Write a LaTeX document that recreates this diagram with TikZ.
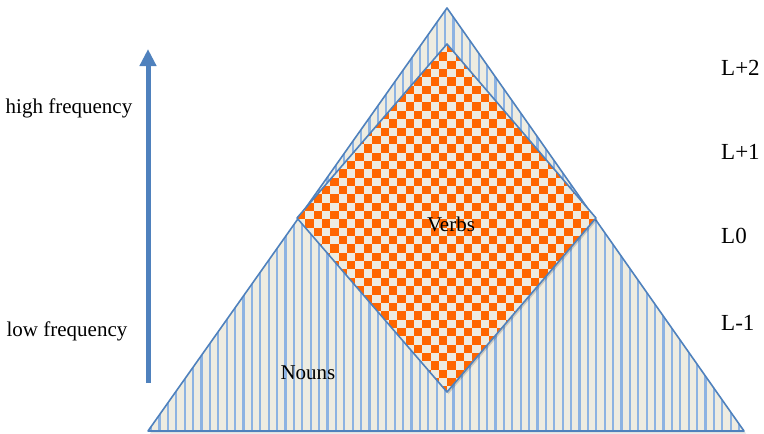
\documentclass[tikz,border=0pt]{standalone}
\usepackage{fontspec}
\setmainfont{Liberation Serif}
\usetikzlibrary{arrows.meta}
\definecolor{beige}{HTML}{EEECE1}
\definecolor{stripe}{HTML}{8DB3E2}
\definecolor{outl}{HTML}{4F81BD}
\definecolor{orng}{HTML}{FF6600}
\tikzset{
  lbl/.style={font=\fontsize{21}{24}\selectfont, inner sep=0pt},
  rlbl/.style={font=\fontsize{23}{26}\selectfont, inner sep=0pt},
  edge/.style={draw=outl, line width=1.6pt, line join=round},
  freqarrow/.style={draw=outl, line width=5pt, -{Triangle[width=16pt,length=17pt]}}
}
\begin{document}
\begin{tikzpicture}[x=1pt,y=-1pt]
\useasboundingbox (0,0) rectangle (764,434);
% corners
\coordinate (A) at (447,8);
\coordinate (B) at (148,431);
\coordinate (C) at (744,431);
\coordinate (DT) at (447,44);
\coordinate (DL) at (297,218);
\coordinate (DR) at (596,218);
\coordinate (DB) at (447,392);
% shadow
\fill[black,opacity=0.12] ([shift={(2,2.5)}]A) -- ([shift={(2,2.5)}]B) -- ([shift={(2,2.5)}]C) -- cycle;
% triangle with stripes
\fill[beige] (A) -- (B) -- (C) -- cycle;
\begin{scope}
\clip (A) -- (B) -- (C) -- cycle;
\foreach \k in {0,...,72} {
  \draw[stripe, line width=2.2pt] ({151+\k*8.4},0) -- ({151+\k*8.4},434);
}
\end{scope}
\draw[edge] (A) -- (B) -- (C) -- cycle;
% diamond shadow
\fill[black,opacity=0.15] ([shift={(1.5,2)}]DT) -- ([shift={(1.5,2)}]DL) -- ([shift={(1.5,2)}]DB) -- ([shift={(1.5,2)}]DR) -- cycle;
% diamond with checks
\fill[beige] (DT) -- (DL) -- (DB) -- (DR) -- cycle;
\begin{scope}
\clip (DT) -- (DL) -- (DB) -- (DR) -- cycle;
\foreach \j in {0,2,...,42} {
  \foreach \i in {0,2,...,36} {
    \fill[orng] ({297+\i*8.35},{44+\j*8.35}) rectangle ++(8.35,8.35);
    \fill[orng] ({297+(\i+1)*8.35},{44+(\j+1)*8.35}) rectangle ++(8.35,8.35);
  }
}
\end{scope}
\draw[edge] (DT) -- (DL) -- (DB) -- (DR) -- cycle;
% arrow
\coordinate (arrS) at (148,383);
\coordinate (arrE) at (148,49);
\draw[freqarrow] (arrS) -- (arrE);
% labels
\node[lbl] (hf) at (69,108) {high frequency};
\node[lbl] (lf) at (67,331) {low frequency};
\node[rlbl, anchor=west] (l2) at (721,68) {L+2};
\node[rlbl, anchor=west] (l1) at (721,152) {L+1};
\node[rlbl, anchor=west] (l0) at (721,236) {L0};
\node[rlbl, anchor=west] (lm1) at (721,323) {L-1};
\node[lbl] (verbs) at (451,224) {Verbs};
\node[lbl] (nouns) at (308,373) {Nouns};
\end{tikzpicture}
\end{document}
